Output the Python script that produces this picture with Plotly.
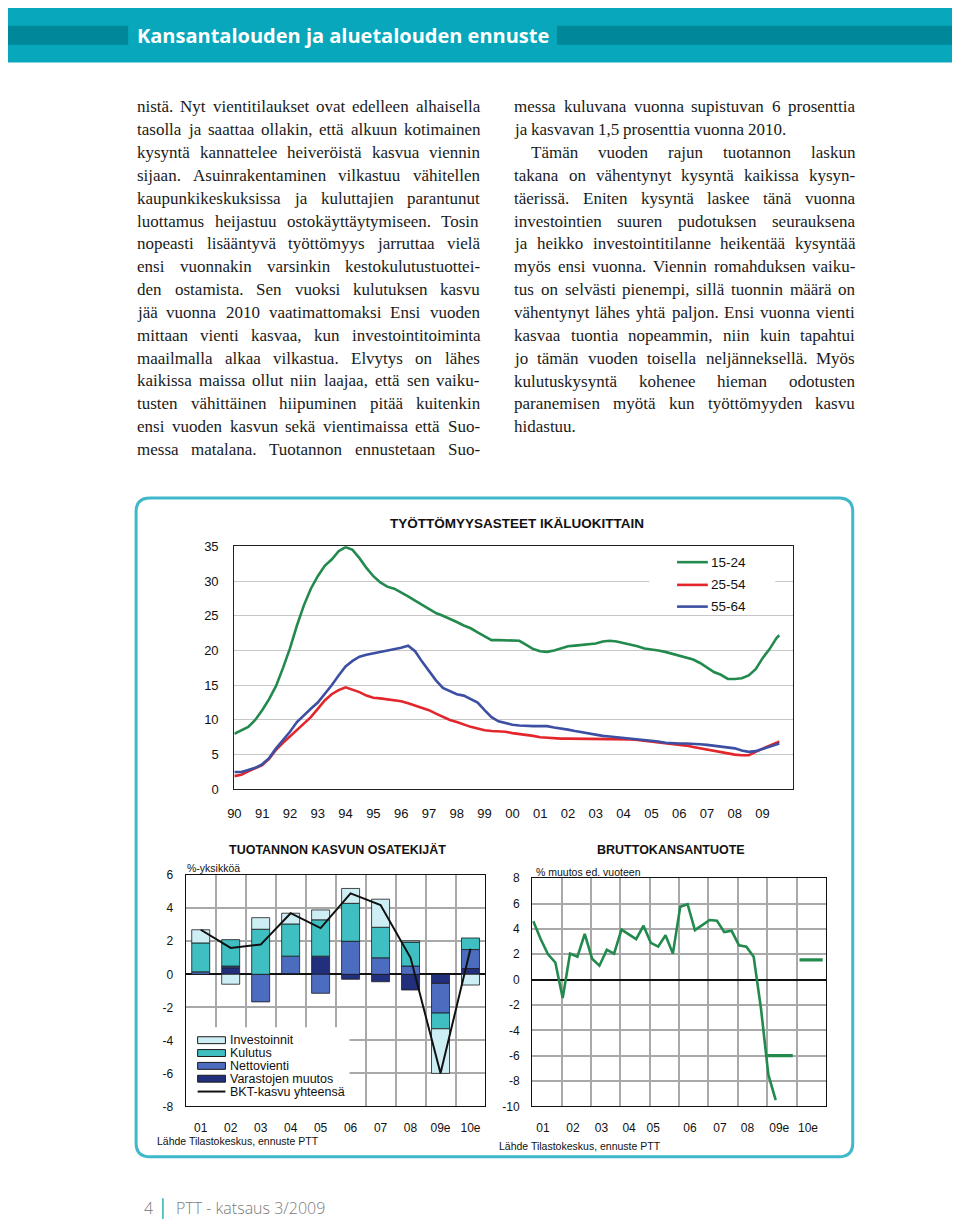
import plotly.graph_objects as go

# The page body keeps its default 8 px margin, so the figure is 16 px smaller than the window
# and every reference pixel position is shifted by that margin.
OFF = 8
WF, HF = 960 - 2 * OFF, 1232 - 2 * OFF

# ---------------- data: unemployment by age group (quarterly readings, 1990Q1 ...) ----------------
year_tick_labels = ["90", "91", "92", "93", "94", "95", "96", "97", "98", "99",
                    "00", "01", "02", "03", "04", "05", "06", "07", "08", "09"]
age_15_24 = [8.0, 8.5, 9.0, 10.0,
             11.4, 13.0, 14.9, 17.5,
             20.3, 23.6, 26.5, 28.9,
             30.7, 32.2, 33.1, 34.3,
             34.9, 34.5, 33.3, 31.9,
             30.7, 29.8, 29.2, 28.9,
             28.4, 27.8, 27.2, 26.6,
             26.0, 25.4, 25.0, 24.6,
             24.1, 23.6, 23.2, 22.6,
             22.1, 21.5, 21.5, 21.5,
             21.5, 21.4, 20.8, 20.2,
             19.9, 19.8, 20.0, 20.3,
             20.6, 20.7, 20.8, 21.0,
             21.0, 21.3, 21.4, 21.3,
             21.1, 20.8, 20.6, 20.3,
             20.2, 20.0, 19.8, 19.5,
             19.3, 19.0, 18.7, 18.2,
             17.5, 16.9, 16.5, 15.9,
             15.9, 16.0, 16.4, 17.3,
             18.9, 20.2, 21.8, 22.2]
age_25_54 = [1.9, 2.1, 2.6, 3.1,
             3.5, 4.4, 5.7, 6.7,
             7.6, 8.5, 9.5, 10.4,
             11.6, 12.8, 13.7, 14.3,
             14.7, 14.4, 14.0, 13.5,
             13.2, 13.1, 13.0, 12.9,
             12.7, 12.4, 12.1, 11.8,
             11.4, 10.9, 10.4, 10.0,
             9.7, 9.3, 9.0, 8.75,
             8.5, 8.4, 8.4, 8.3,
             8.1, 8.0, 7.8, 7.7,
             7.5, 7.4, 7.3, 7.3,
             7.3, 7.3, 7.3, 7.3,
             7.3, 7.3, 7.3, 7.3,
             7.3, 7.2, 7.1, 7.0,
             6.9, 6.8, 6.7, 6.6,
             6.4, 6.3, 6.1, 5.9,
             5.7, 5.5, 5.3, 5.1,
             5.0, 4.9, 4.9, 5.4,
             5.9, 6.3, 6.7, 6.9]
age_55_64 = [2.5, 2.5, 2.8, 3.1,
             3.6, 4.5, 5.9, 7.1,
             8.3, 9.7, 10.7, 11.6,
             12.5, 13.7, 15.0, 16.4,
             17.7, 18.5, 19.1, 19.4,
             19.6, 19.7, 19.9, 20.2,
             20.4, 20.7, 19.9, 18.4,
             17.0, 15.7, 14.6, 14.1,
             13.7, 13.5, 13.0, 12.5,
             11.4, 10.4, 9.8, 9.5,
             9.3, 9.2, 9.1, 9.1,
             9.1, 9.1, 8.9, 8.8,
             8.6, 8.4, 8.2, 8.0,
             7.9, 7.7, 7.6, 7.5,
             7.4, 7.4, 7.3, 7.2,
             7.1, 6.9, 6.7, 6.6,
             6.6, 6.6, 6.6, 6.5,
             6.4, 6.3, 6.2, 6.1,
             5.9, 5.6, 5.4, 5.5,
             5.8, 6.1, 6.4, 6.6]
top_time = [1990 + 0.25 * i for i in range(79)] + [2009.6]
age_groups = ["15-24", "25-54", "55-64"]

# ---------------- data: components of output growth ----------------
comp_years = ["01", "02", "03", "04", "05", "06", "07", "08", "09e", "10e"]
varastojen_muutos = [0.0, 0.4, 0.0, 0.05, 1.1, -0.3, -0.45, -0.95, -0.55, 0.35]
nettovienti = [0.15, 0.1, -1.67, 1.05, -1.15, 2.0, 1.0, 0.5, -1.8, 1.15]
kulutus = [1.75, 1.6, 2.73, 1.95, 2.2, 2.3, 1.85, 1.45, -0.95, 0.7]
investoinnit = [0.8, -0.6, 0.7, 0.65, 0.6, 0.9, 1.7, 0.08, -2.7, -0.65]
bkt_kasvu = [2.7, 1.6, 1.8, 3.7, 2.8, 4.9, 4.2, 1.0, -6.0, 1.55]

# ---------------- data: GDP, % change from previous year (quarterly, 2001Q1 ...) ----------------
gdp_labels = ["01", "02", "03", "04", "05", "06", "07", "08", "09e", "10e"]
gdp_quarterly = [4.6, 3.2, 2.0, 1.35,
                 -1.45, 2.05, 1.8, 3.6,
                 1.65, 1.1, 2.35, 2.05,
                 3.95, 3.55, 3.2, 4.25,
                 2.9, 2.6, 3.5, 2.05,
                 5.75, 5.95, 3.9, 4.3,
                 4.7, 4.65, 3.75, 3.85,
                 2.7, 2.6, 1.8, -2.3,
                 -7.5, -9.5]
gdp_time = [2001.04 + 0.25 * i for i in range(len(gdp_quarterly))]
gdp_forecast_2009 = -6.0
gdp_forecast_2010 = 1.55

# ---------------- text ----------------
left_lines = [
    "nistä. Nyt vientitilaukset ovat edelleen alhaisella",
    "tasolla ja saattaa ollakin, että alkuun kotimainen",
    "kysyntä kannattelee heiveröistä kasvua viennin",
    "sijaan. Asuinrakentaminen vilkastuu vähitellen",
    "kaupunkikeskuksissa ja kuluttajien parantunut",
    "luottamus heijastuu ostokäyttäytymiseen. Tosin",
    "nopeasti lisääntyvä työttömyys jarruttaa vielä",
    "ensi vuonnakin varsinkin kestokulutustuottei-",
    "den ostamista. Sen vuoksi kulutuksen kasvu",
    "jää vuonna 2010 vaatimattomaksi Ensi vuoden",
    "mittaan vienti kasvaa, kun investointitoiminta",
    "maailmalla alkaa vilkastua. Elvytys on lähes",
    "kaikissa maissa ollut niin laajaa, että sen vaiku-",
    "tusten vähittäinen hiipuminen pitää kuitenkin",
    "ensi vuoden kasvun sekä vientimaissa että Suo-",
    "messa matalana. Tuotannon ennustetaan Suo-",
]
right_lines = [
    "messa kuluvana vuonna supistuvan 6 prosenttia",
    "ja kasvavan 1,5 prosenttia vuonna 2010.",
    "Tämän vuoden rajun tuotannon laskun",
    "takana on vähentynyt kysyntä kaikissa kysyn-",
    "täerissä. Eniten kysyntä laskee tänä vuonna",
    "investointien suuren pudotuksen seurauksena",
    "ja heikko investointitilanne heikentää kysyntää",
    "myös ensi vuonna. Viennin romahduksen vaiku-",
    "tus on selvästi pienempi, sillä tuonnin määrä on",
    "vähentynyt lähes yhtä paljon. Ensi vuonna vienti",
    "kasvaa tuontia nopeammin, niin kuin tapahtui",
    "jo tämän vuoden toisella neljänneksellä. Myös",
    "kulutuskysyntä kohenee hieman odotusten",
    "paranemisen myötä kun työttömyyden kasvu",
    "hidastuu.",
]


def px(x):
    return (x - OFF) / WF


def py(y):
    return 1 - (y - OFF) / HF


SANS = "Arial, Liberation Sans, sans-serif"
SERIF = "Liberation Serif, Times New Roman, serif"
GREEN = "#238a4e"
RED = "#e3262b"
BLUE = "#3d4fa3"
TEAL = "#08a7bc"
line_colors = [GREEN, RED, BLUE]

fig = go.Figure()

# ---- top chart ----
for name, vals, col in zip(age_groups, [age_15_24, age_25_54, age_55_64], line_colors):
    fig.add_trace(go.Scatter(x=top_time, y=vals, mode="lines", name=name,
                             line=dict(color=col, width=2.6), xaxis="x", yaxis="y", showlegend=False))

# ---- bottom-left chart ----
bar_specs = [
    ("Varastojen muutos", varastojen_muutos, "#222f7c"),
    ("Nettovienti", nettovienti, "#4c6cc0"),
    ("Kulutus", kulutus, "#3fbfc1"),
    ("Investoinnit", investoinnit, "#cdeef4"),
]
cat_idx = list(range(len(comp_years)))
for name, vals, col in bar_specs:
    fig.add_trace(go.Bar(x=cat_idx, y=vals, name=name,
                         marker=dict(color=col, line=dict(color="#1a1a1a", width=0.8)),
                         width=0.6, xaxis="x2", yaxis="y2", showlegend=False))
fig.add_trace(go.Scatter(x=cat_idx, y=bkt_kasvu, mode="lines", name="BKT-kasvu yhteensä",
                         line=dict(color="#111111", width=2), xaxis="x2", yaxis="y2", showlegend=False))

# ---- bottom-right chart ----
fig.add_trace(go.Scatter(x=gdp_time, y=gdp_quarterly, mode="lines", line=dict(color=GREEN, width=2.6),
                         xaxis="x3", yaxis="y3", showlegend=False))
fig.add_trace(go.Scatter(x=[2009.0, 2009.87], y=[gdp_forecast_2009] * 2, mode="lines",
                         line=dict(color=GREEN, width=3.2), xaxis="x3", yaxis="y3", showlegend=False))
fig.add_trace(go.Scatter(x=[2010.1, 2010.89], y=[gdp_forecast_2010] * 2, mode="lines",
                         line=dict(color=GREEN, width=3.2), xaxis="x3", yaxis="y3", showlegend=False))

shapes = []
annotations = []


def note(x, y, text, size, xanchor="left", color="#111", family=SANS, **kw):
    annotations.append(dict(x=px(x), y=py(y), xref="paper", yref="paper", text=text, showarrow=False,
                            xanchor=xanchor, yanchor="middle", font=dict(family=family, size=size, color=color, **kw)))


# header band
shapes.append(dict(type="rect", xref="paper", yref="paper", x0=px(0), x1=px(960), y0=py(56), y1=py(0),
                   fillcolor=TEAL, line=dict(width=0), layer="below"))
shapes.append(dict(type="rect", xref="paper", yref="paper", x0=px(0), x1=px(122), y0=py(38), y1=py(19),
                   fillcolor="#00879a", line=dict(width=0), layer="below"))
shapes.append(dict(type="rect", xref="paper", yref="paper", x0=px(554), x1=px(960), y0=py(38), y1=py(19),
                   fillcolor="#00879a", line=dict(width=0), layer="below"))
note(129, 29, "<b>Kansantalouden ja aluetalouden ennuste</b>", 20,
     family="Open Sans, Noto Sans, sans-serif", color="white")

# rounded chart box
x0b, x1b, y0b, y1b, r = 130, 852, 497, 1164, 14
path = (f"M {px(x0b + r)} {py(y0b)} L {px(x1b - r)} {py(y0b)} "
        f"Q {px(x1b)} {py(y0b)} {px(x1b)} {py(y0b + r)} "
        f"L {px(x1b)} {py(y1b - r)} Q {px(x1b)} {py(y1b)} {px(x1b - r)} {py(y1b)} "
        f"L {px(x0b + r)} {py(y1b)} Q {px(x0b)} {py(y1b)} {px(x0b)} {py(y1b - r)} "
        f"L {px(x0b)} {py(y0b + r)} Q {px(x0b)} {py(y0b)} {px(x0b + r)} {py(y0b)} Z")
shapes.append(dict(type="path", xref="paper", yref="paper", path=path,
                   line=dict(color="#3fb8c9", width=3), layer="below"))

# footer
note(136, 1216, "4", 16, family="Open Sans, sans-serif", color="#7a7a7a", weight=300)
shapes.append(dict(type="line", xref="paper", yref="paper", x0=px(157), x1=px(157), y0=py(1227), y1=py(1206),
                   line=dict(color="#2fb3b0", width=1.5)))
note(168, 1216, "PTT - katsaus 3/2009", 16, family="Open Sans, sans-serif", color="#7a7a7a", weight=300)

# ---- body text, justified word by word (Times metrics) ----
TW = {' ': 250, 'a': 444, 'b': 500, 'c': 444, 'd': 500, 'e': 444, 'f': 333, 'g': 500, 'h': 500,
      'i': 278, 'j': 278, 'k': 500, 'l': 278, 'm': 778, 'n': 500, 'o': 500, 'p': 500, 'q': 500,
      'r': 333, 's': 389, 't': 278, 'u': 500, 'v': 500, 'w': 722, 'x': 500, 'y': 500, 'z': 444,
      'ä': 444, 'ö': 500, '.': 250, ',': 250, '-': 333, 'A': 722, 'E': 611, 'J': 389, 'M': 889,
      'N': 722, 'S': 556, 'T': 611, 'V': 722}


def wem(word):
    return sum(TW.get(ch, 500) for ch in word) / 1000.0


FS = 17.0


def set_column(lines, x_left, x_right, y_first, step, ragged, indent):
    for i, line in enumerate(lines):
        y = y_first + i * step
        xl = x_left + indent.get(i, 0)
        words = line.split(" ")
        widths = [wem(w) * FS for w in words]
        if i in ragged or len(words) == 1:
            gap = 0.25 * FS
        else:
            gap = (x_right - xl - sum(widths)) / (len(words) - 1)
        x = xl
        for w, wd in zip(words, widths):
            annotations.append(dict(x=px(x), y=py(y), xref="paper", yref="paper", text=w, showarrow=False,
                                    xanchor="left", yanchor="middle", borderpad=0,
                                    font=dict(family=SERIF, size=FS, color="#1a1a1a")))
            x += wd + gap


set_column(left_lines, 130, 475, 101, 23.13, ragged=set(), indent={})
set_column(right_lines, 510, 853, 101, 23.14, ragged={1, 14}, indent={2: 17})

# ---- chart titles & notes ----
note(514, 523, "<b>TYÖTTÖMYYSASTEET IKÄLUOKITTAIN</b>", 13.5, xanchor="center")
note(333, 853, "<b>TUOTANNON KASVUN OSATEKIJÄT</b>", 12.5, xanchor="center")
note(669, 853, "<b>BRUTTOKANSANTUOTE</b>", 12.5, xanchor="center")
note(179, 872, "%-yksikköä", 10.5)
note(531, 876, "% muutos ed. vuoteen", 10.5)
note(149, 1148, "Lähde Tilastokeskus, ennuste PTT", 10.5)
note(494, 1153, "Lähde Tilastokeskus, ennuste PTT", 10.5)

# ---- legend of the top chart (white box hides the grid) ----
TOP_L, TOP_R, TOP_T, TOP_B = 229, 792, 546, 792
TOP_XR = [1990, 2010.1]


def x1d(p):
    return TOP_XR[0] + (p - TOP_L) / (TOP_R - TOP_L) * (TOP_XR[1] - TOP_XR[0])


def y1d(p):
    return (TOP_B - p) / (TOP_B - TOP_T) * 35


shapes.append(dict(type="rect", xref="x", yref="y", x0=x1d(647), x1=x1d(774), y0=y1d(612), y1=y1d(553),
                   fillcolor="white", line=dict(width=0), layer="between"))
for name, col, yy in zip(age_groups, line_colors, [562, 585, 607]):
    shapes.append(dict(type="line", xref="paper", yref="paper", x0=px(675), x1=px(706), y0=py(yy), y1=py(yy),
                       line=dict(color=col, width=2.6), layer="above"))
    note(707, yy, name, 13.5)

# ---- legend of the component chart ----
BL_L, BL_R, BL_T, BL_B = 180, 482, 879, 1113


def x2d(p):
    return (p - BL_L) / (BL_R - BL_L) * 10 - 0.5


def y2d(p):
    return 6 - (p - BL_T) / (BL_B - BL_T) * 14


shapes.append(dict(type="rect", xref="x2", yref="y2", x0=-0.5, x1=x2d(345), y0=-8, y1=y2d(1033),
                   fillcolor="white", line=dict(width=0), layer="between"))
legend_rows = [("Investoinnit", "#cdeef4", 1046), ("Kulutus", "#3fbfc1", 1059),
               ("Nettovienti", "#4c6cc0", 1072), ("Varastojen muutos", "#222f7c", 1085)]
for name, col, yy in legend_rows:
    shapes.append(dict(type="rect", xref="paper", yref="paper", x0=px(192), x1=px(220), y0=py(yy + 3.5),
                       y1=py(yy - 3.5), fillcolor=col, line=dict(color="#1a1a1a", width=1), layer="above"))
    note(223, yy, name, 12.5)
shapes.append(dict(type="line", xref="paper", yref="paper", x0=px(192), x1=px(220), y0=py(1098), y1=py(1098),
                   line=dict(color="#111", width=2), layer="above"))
note(223, 1098, "BKT-kasvu yhteensä", 12.5)

axis_common = dict(showline=True, mirror=True, ticks="", fixedrange=True)
y2_ticks = list(range(-8, 7, 2))
y3_ticks = list(range(-10, 9, 2))

fig.update_layout(
    width=WF, height=HF, autosize=False,
    margin=dict(l=0, r=0, t=0, b=0),
    paper_bgcolor="white", plot_bgcolor="white",
    barmode="relative", bargap=0.4, showlegend=False,
    shapes=shapes, annotations=annotations,
    xaxis=dict(domain=[px(TOP_L), px(TOP_R)], range=TOP_XR, tickmode="array",
               tickvals=list(range(1990, 2010)), ticktext=year_tick_labels, showgrid=False, zeroline=False,
               linecolor="#222", linewidth=1.3, tickfont=dict(family=SANS, size=13, color="#111"),
               ticklabelstandoff=12, anchor="y", **axis_common),
    yaxis=dict(domain=[py(TOP_B), py(TOP_T)], range=[0, 35], dtick=5, showgrid=True, gridcolor="#c6c6c6",
               gridwidth=1.2, linecolor="#222", linewidth=1.3, zeroline=False,
               tickfont=dict(family=SANS, size=13, color="#111"), ticklabelstandoff=12, anchor="x",
               **axis_common),
    xaxis2=dict(domain=[px(BL_L), px(BL_R)], range=[-0.5, 9.5], tickmode="array", tickvals=cat_idx,
                ticktext=comp_years, showgrid=False, zeroline=False,
                minor=dict(tickmode="array", tickvals=[i + 0.5 for i in range(9)], showgrid=True,
                           gridcolor="#a9a9a9", gridwidth=1.5, ticks=""),
                linecolor="#111", linewidth=1.3, tickfont=dict(family=SANS, size=12, color="#111"),
                ticklabelstandoff=10, anchor="y2", **axis_common),
    yaxis2=dict(domain=[py(BL_B), py(BL_T)], range=[-8, 6], tickmode="array", tickvals=y2_ticks,
                ticktext=[str(v) for v in y2_ticks], showgrid=True, gridcolor="#a9a9a9",
                gridwidth=1.5, linecolor="#111", linewidth=1.3,
                tickfont=dict(family=SANS, size=12, color="#111"), ticklabelstandoff=9, anchor="x2",
                zeroline=True, zerolinecolor="#111", zerolinewidth=1.5, **axis_common),
    xaxis3=dict(domain=[px(529), px(825)], range=[2001, 2011], tickmode="array",
                tickvals=[2001.37, 2002.39, 2003.36, 2004.3, 2005.12, 2006.37, 2007.39, 2008.33, 2009.41, 2010.39],
                ticktext=gdp_labels, showgrid=False, zeroline=False,
                minor=dict(tickmode="array", tickvals=list(range(2002, 2011)), showgrid=True,
                           gridcolor="#a9a9a9", gridwidth=1.5, ticks=""),
                linecolor="#111", linewidth=1.3, tickfont=dict(family=SANS, size=12, color="#111"),
                ticklabelstandoff=10, anchor="y3", **axis_common),
    yaxis3=dict(domain=[py(1113), py(882)], range=[-10, 8], tickmode="array", tickvals=y3_ticks,
                ticktext=[str(v) for v in y3_ticks], showgrid=True, gridcolor="#a9a9a9",
                gridwidth=1.5, linecolor="#111", linewidth=1.3,
                tickfont=dict(family=SANS, size=12, color="#111"), ticklabelstandoff=9, anchor="x3",
                zeroline=True, zerolinecolor="#111", zerolinewidth=1.5, **axis_common),
)

fig.write_html("out.html", config={"displayModeBar": False})
